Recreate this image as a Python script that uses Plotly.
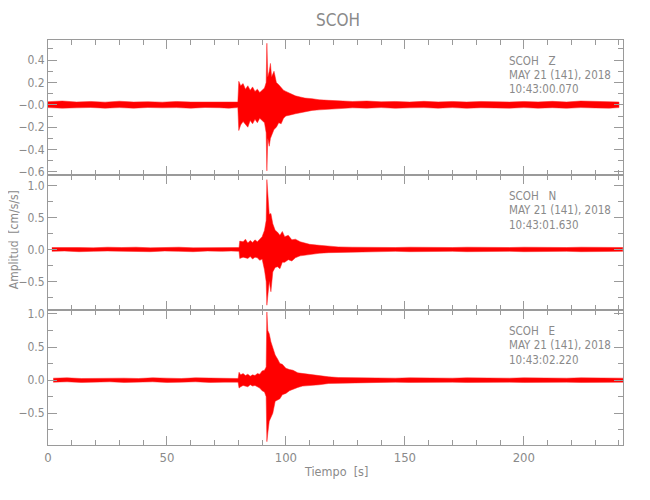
import plotly.graph_objects as go

# ---------------- data (envelopes) ----------------
station = "SCOH"
components = ["Z", "N", "E"]
date_line = "MAY 21 (141), 2018"
start_times = ["10:43:00.070", "10:43:01.630", "10:43:02.220"]

t_z = [0, 6, 12, 18, 24, 30, 36, 42, 48, 54, 60, 66, 72, 76, 79.8,
       80.2, 81, 82, 83, 84, 85, 86, 87, 88, 89, 90, 91, 91.7, 92.0, 92.4,
       93, 93.5, 94, 95, 96, 97, 98, 99, 100, 102, 104, 106, 108, 111, 114,
       118, 122, 128, 134, 140, 146, 152, 158, 164, 170, 176, 182, 188, 194,
       200, 206, 212, 218, 224, 230, 236, 240]
up_z = [0.028, 0.034, 0.025, 0.03, 0.024, 0.032, 0.025, 0.028, 0.024, 0.03, 0.025, 0.027, 0.03, 0.025, 0.025,
        0.21, 0.17, 0.19, 0.14, 0.17, 0.13, 0.16, 0.12, 0.14, 0.11, 0.13, 0.15, 0.20, 0.55, 0.25,
        0.30, 0.37, 0.25, 0.30, 0.20, 0.18, 0.15, 0.13, 0.12, 0.10, 0.08, 0.07, 0.06, 0.055, 0.045,
        0.04, 0.035, 0.03, 0.034, 0.027, 0.03, 0.025, 0.031, 0.026, 0.03, 0.025, 0.03, 0.027, 0.025,
        0.03, 0.026, 0.031, 0.025, 0.034, 0.03, 0.027, 0.025]
lo_z = [-0.025, -0.03, -0.027, -0.024, -0.03, -0.025, -0.03, -0.024, -0.027, -0.025, -0.03, -0.024, -0.026, -0.03, -0.025,
        -0.23, -0.18, -0.15, -0.17, -0.20, -0.14, -0.17, -0.13, -0.16, -0.12, -0.14, -0.16, -0.25, -0.59, -0.30,
        -0.37, -0.30, -0.28, -0.22, -0.20, -0.16, -0.17, -0.12, -0.10, -0.09, -0.08, -0.07, -0.06, -0.05, -0.045,
        -0.035, -0.033, -0.027, -0.03, -0.025, -0.031, -0.027, -0.025, -0.03, -0.025, -0.031, -0.026, -0.025, -0.03,
        -0.025, -0.03, -0.026, -0.031, -0.025, -0.028, -0.03, -0.025]

t_n = [1.63, 7, 13, 19, 25, 31, 37, 43, 49, 55, 61, 67, 73, 77, 80.3,
       80.6, 82, 83, 84, 85, 86, 87, 88, 89, 90, 91, 91.7, 92.0, 92.5, 93,
       93.7, 94.5, 95.5, 96.5, 97.5, 98.5, 99.5, 101, 102.5, 104, 106, 108, 110, 114,
       118, 122, 128, 134, 140, 146, 152, 158, 164, 170, 176, 182, 188, 194,
       200, 206, 212, 218, 224, 230, 236, 241.6]
up_n = [0.03, 0.035, 0.03, 0.025, 0.035, 0.03, 0.035, 0.025, 0.03, 0.035, 0.025, 0.03, 0.025, 0.03, 0.03,
        0.13, 0.12, 0.16, 0.10, 0.14, 0.11, 0.15, 0.12, 0.16, 0.20, 0.30, 0.45, 1.09, 0.87, 0.55,
        0.56, 0.40, 0.30, 0.27, 0.22, 0.28, 0.20, 0.22, 0.15, 0.16, 0.12, 0.10, 0.08, 0.065,
        0.05, 0.04, 0.035, 0.03, 0.035, 0.03, 0.035, 0.03, 0.035, 0.03, 0.035, 0.03, 0.035, 0.03,
        0.035, 0.03, 0.035, 0.03, 0.035, 0.03, 0.035, 0.03]
lo_n = [-0.03, -0.025, -0.035, -0.03, -0.025, -0.035, -0.03, -0.035, -0.025, -0.03, -0.035, -0.025, -0.03, -0.025, -0.03,
        -0.14, -0.12, -0.13, -0.14, -0.11, -0.15, -0.12, -0.13, -0.17, -0.15, -0.32, -0.50, -0.87, -0.70, -0.50,
        -0.66, -0.35, -0.28, -0.27, -0.30, -0.20, -0.20, -0.16, -0.18, -0.13, -0.10, -0.09, -0.08, -0.06,
        -0.05, -0.04, -0.035, -0.03, -0.035, -0.03, -0.035, -0.03, -0.035, -0.03, -0.035, -0.03, -0.035, -0.03,
        -0.035, -0.03, -0.035, -0.03, -0.035, -0.03, -0.035, -0.03]

t_e = [2.22, 8, 14, 20, 26, 32, 38, 44, 50, 56, 62, 68, 74, 77, 79.9,
       80.3, 81, 82, 83, 84, 85, 86, 87, 88, 89, 90, 91, 91.7, 92.0, 92.4,
       93, 93.7, 94.5, 95.5, 96.5, 97.5, 98.5, 100, 101.5, 103, 105, 107, 110, 114,
       118, 122, 128, 134, 140, 146, 152, 158, 164, 170, 176, 182, 188, 194,
       200, 206, 212, 218, 224, 230, 236, 242.2]
up_e = [0.03, 0.035, 0.025, 0.03, 0.035, 0.03, 0.025, 0.035, 0.03, 0.025, 0.035, 0.03, 0.035, 0.03, 0.025,
        0.12, 0.08, 0.10, 0.07, 0.09, 0.06, 0.08, 0.07, 0.10, 0.09, 0.14, 0.15, 0.20, 1.03, 0.75,
        0.70, 0.58, 0.50, 0.38, 0.32, 0.25, 0.24, 0.18, 0.16, 0.15, 0.11, 0.10, 0.08, 0.06,
        0.05, 0.04, 0.035, 0.03, 0.035, 0.03, 0.035, 0.03, 0.035, 0.03, 0.035, 0.03, 0.035, 0.03,
        0.035, 0.03, 0.035, 0.03, 0.035, 0.03, 0.035, 0.03]
lo_e = [-0.03, -0.025, -0.035, -0.03, -0.025, -0.035, -0.03, -0.025, -0.035, -0.03, -0.025, -0.035, -0.03, -0.025, -0.03,
        -0.12, -0.10, -0.08, -0.09, -0.10, -0.07, -0.09, -0.08, -0.10, -0.12, -0.16, -0.18, -0.25, -0.93, -0.80,
        -0.62, -0.58, -0.50, -0.32, -0.30, -0.28, -0.22, -0.20, -0.16, -0.14, -0.11, -0.09, -0.08, -0.07,
        -0.05, -0.04, -0.035, -0.03, -0.035, -0.03, -0.035, -0.03, -0.035, -0.03, -0.035, -0.03, -0.035, -0.03,
        -0.035, -0.03, -0.035, -0.03, -0.035, -0.03, -0.035, -0.03]

y_ranges = [[-0.627, 0.579], [-0.945, 1.162], [-0.98, 1.06]]
y_tickvals = [[-0.6, -0.4, -0.2, 0.0, 0.2, 0.4], [-0.5, 0.0, 0.5, 1.0], [-0.5, 0.0, 0.5, 1.0]]
y_ticktext = [["\u22120.6", "\u22120.4", "\u22120.2", "\u22120.0", "0.2", "0.4"],
              ["\u22120.5", "0.0", "0.5", "1.0"],
              ["\u22120.5", "0.0", "0.5", "1.0"]]
y_minor = [0.1, 0.25, 0.25]
x_range = [0, 241.7]

traces = [(t_z, up_z, lo_z), (t_n, up_n, lo_n), (t_e, up_e, lo_e)]
for t, u, l in traces:
    assert len(t) == len(u) == len(l), (len(t), len(u), len(l))

# ---------------- layout helpers ----------------
# The page places the figure 8 px from the window's top-left corner,
# so target screen positions are shifted by that offset.
OFF = 8
W, H = 650, 500
SL, SR, ST, SB = 47.7, 623.3, 40.3, 445.0   # plot box on screen
ML = SL - OFF
MT = ST - OFF
MR = W - (SR - OFF)
MB = H - (SB - OFF)
PW, PH = W - ML - MR, H - MT - MB
def px_x(x):
    return (x - OFF - ML) / PW
def px_y(y):
    return (H - MB - (y - OFF)) / PH

GREY_TXT = "#8a8a8a"
GREY_LN = "#9a9a9a"
FONT = "DejaVu Sans Condensed, Liberation Sans Narrow, Liberation Sans, sans-serif"

fig = go.Figure()
domains = [[2/3, 1.0], [1/3, 2/3], [0.0, 1/3]]
for i, (t, u, l) in enumerate(traces):
    xa = "x" if i == 0 else f"x{i+1}"
    ya = "y" if i == 0 else f"y{i+1}"
    fig.add_trace(go.Scatter(
        x=list(t) + list(t)[::-1], y=list(u) + list(l)[::-1],
        mode="lines", fill="toself", fillcolor="#ff0000",
        line=dict(color="#ff2020", width=0.5),
        xaxis=xa, yaxis=ya, showlegend=False, hoverinfo="skip"))

layout = dict(width=W, height=H, margin=dict(l=ML, r=MR, t=MT, b=MB, autoexpand=False),
              paper_bgcolor="white", plot_bgcolor="white",
              font=dict(family=FONT, color=GREY_TXT, size=12), showlegend=False)
for i in range(3):
    xk = "xaxis" if i == 0 else f"xaxis{i+1}"
    yk = "yaxis" if i == 0 else f"yaxis{i+1}"
    ya = "y" if i == 0 else f"y{i+1}"
    xa = "x" if i == 0 else f"x{i+1}"
    layout[xk] = dict(domain=[0, 1], anchor=ya, range=x_range, showgrid=False, zeroline=False,
                      automargin=False,
                      showline=True, linecolor=GREY_LN, linewidth=1, mirror="allticks",
                      ticks="inside", ticklen=9, tickcolor=GREY_LN, tickwidth=1,
                      tickmode="linear", tick0=0, dtick=50,
                      minor=dict(ticks="inside", ticklen=5, tickcolor=GREY_LN, tickmode="linear", tick0=0, dtick=10),
                      showticklabels=(i == 2), tickfont=dict(size=13, color=GREY_TXT))
    layout[yk] = dict(domain=domains[i], anchor=xa, range=y_ranges[i], showgrid=False, zeroline=False,
                      automargin=False,
                      showline=True, linecolor=GREY_LN, linewidth=1, mirror="allticks",
                      ticks="inside", ticklen=9, tickcolor=GREY_LN, tickwidth=1,
                      tickmode="array", tickvals=y_tickvals[i], ticktext=y_ticktext[i],
                      minor=dict(ticks="inside", ticklen=5, tickcolor=GREY_LN, tickmode="linear", tick0=0, dtick=y_minor[i]),
                      tickfont=dict(size=12, color=GREY_TXT))
fig.update_layout(**layout)

ann = []
ann.append(dict(text=station, x=px_x(338), y=px_y(20), xref="paper", yref="paper",
                xanchor="center", yanchor="middle", showarrow=False, font=dict(size=17, color=GREY_TXT)))
ann.append(dict(text="Amplitud  [cm/s/s]", x=px_x(14), y=px_y(240), xref="paper", yref="paper",
                xanchor="center", yanchor="middle", textangle=-90, showarrow=False, font=dict(size=12, color=GREY_TXT)))
ann.append(dict(text="Tiempo  [s]", x=px_x(336), y=px_y(471), xref="paper", yref="paper",
                xanchor="center", yanchor="middle", showarrow=False, font=dict(size=12.5, color=GREY_TXT)))
line_y = [[61.3, 75.3, 89.7], [196.3, 210.5, 225.0], [331.3, 345.3, 359.7]]
for i in range(3):
    texts = [station + "\u00a0\u00a0\u00a0" + components[i], date_line, start_times[i]]
    for j in range(3):
        ann.append(dict(text=texts[j], x=px_x(506.7), y=px_y(line_y[i][j]), xref="paper", yref="paper",
                        xanchor="left", yanchor="middle", showarrow=False, font=dict(size=11.5, color=GREY_TXT)))
fig.update_layout(annotations=ann)

fig.write_html("out.html")
